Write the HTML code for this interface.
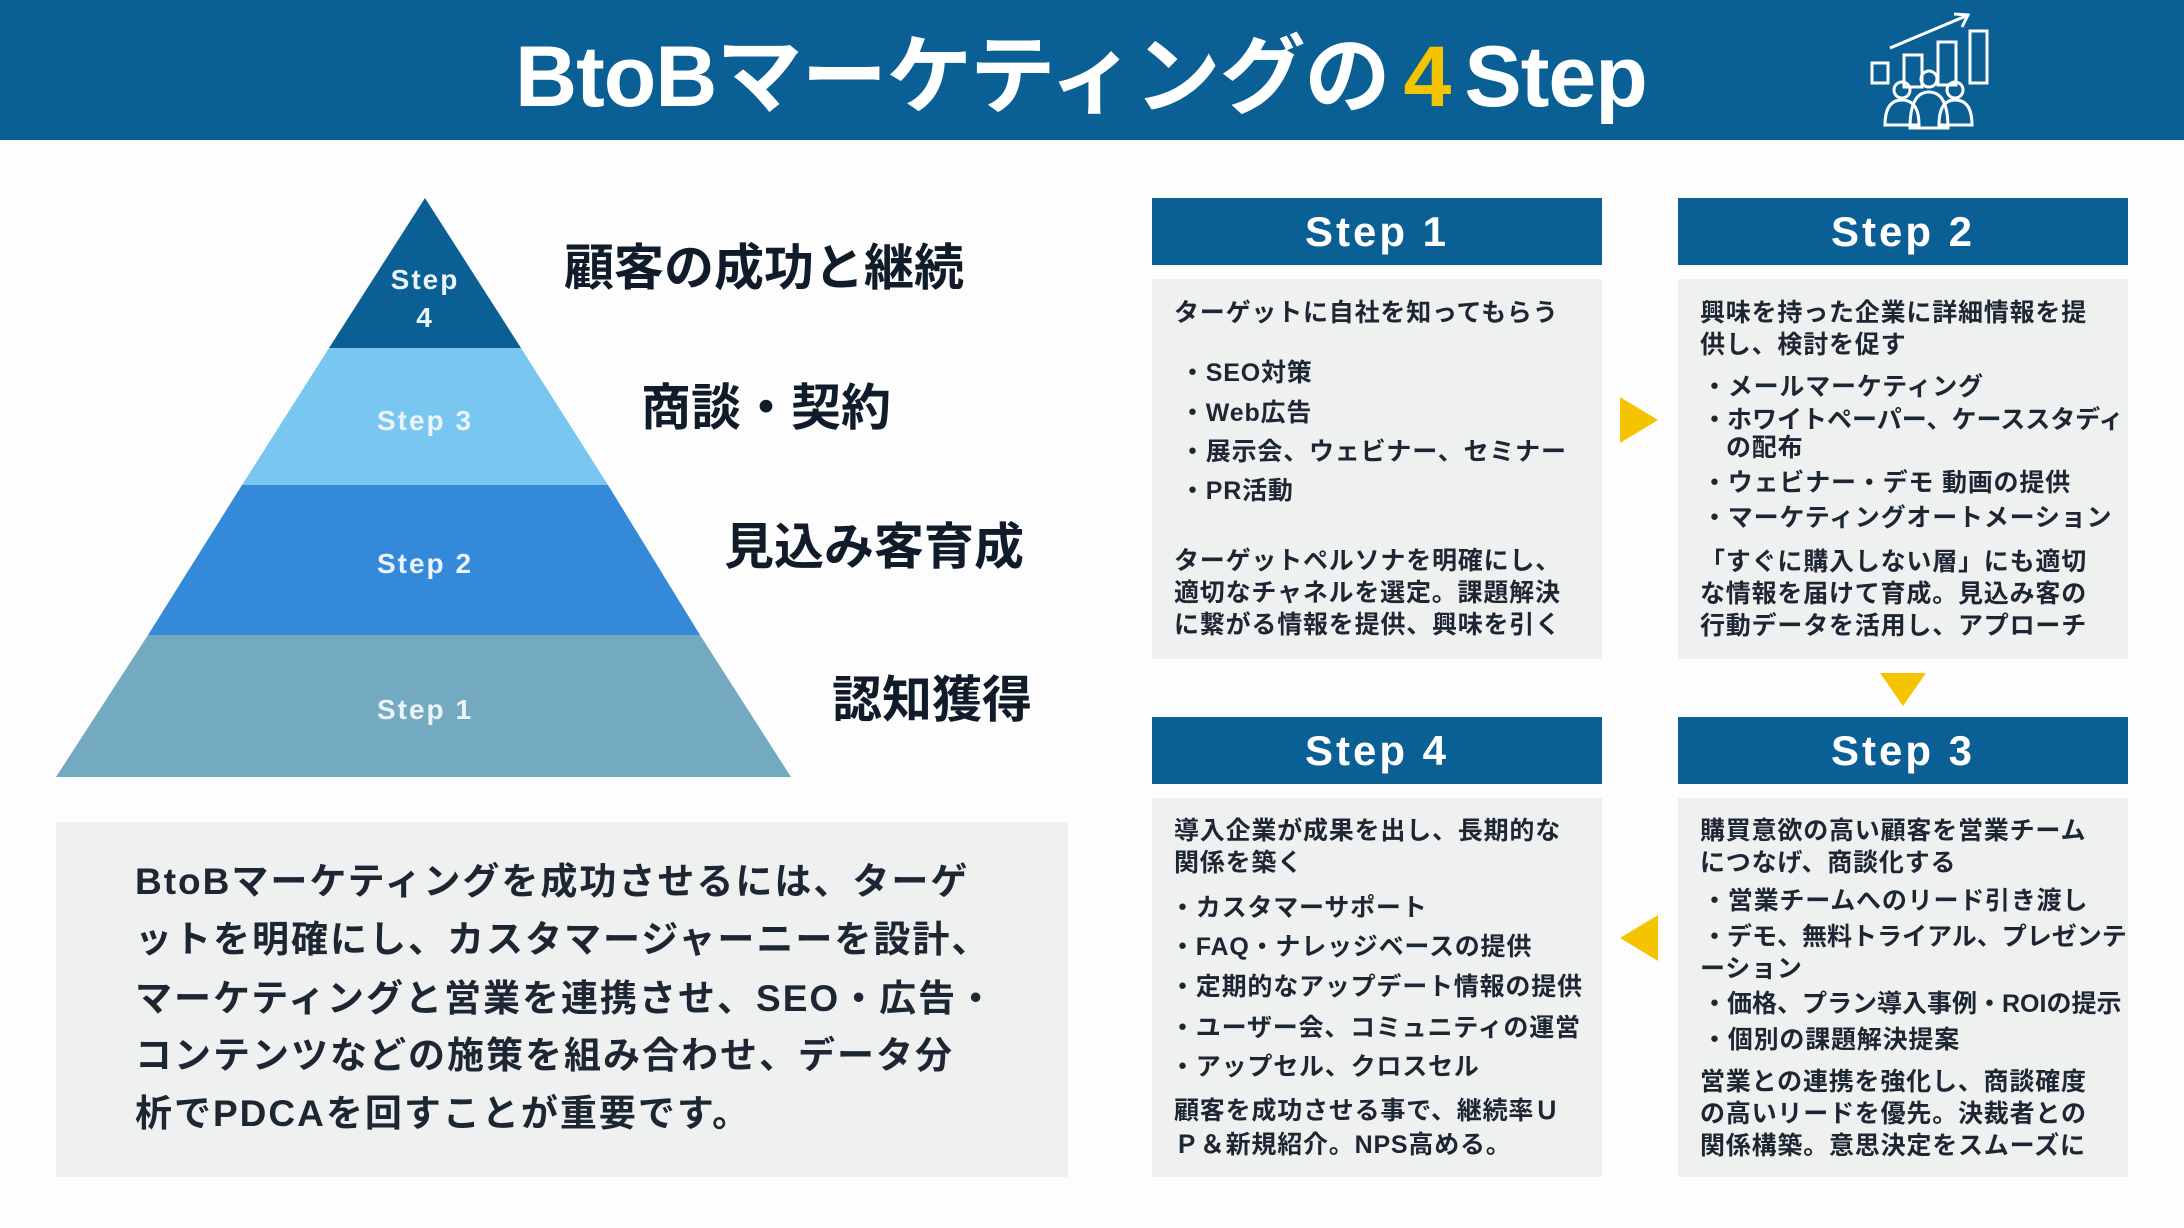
<!DOCTYPE html>
<html><head><meta charset="utf-8"><style>
*{margin:0;padding:0;box-sizing:border-box}
body{width:2184px;height:1228px;background:#fdfdfd;position:relative;overflow:hidden;font-family:"Liberation Sans","Noto Sans CJK JP",sans-serif;font-weight:bold;color:#1b2530}
.a{position:absolute;white-space:nowrap}
.hd{position:absolute;background:#0a5f94;color:#fff;font-size:42px;letter-spacing:3px;text-align:center;line-height:67px}
.bd{position:absolute;background:#eff1f0}
.t{position:absolute;white-space:nowrap;font-size:25px;line-height:30px;color:#1d2733;letter-spacing:0.8px}
.lb{position:absolute;white-space:nowrap;font-size:50px;color:#111c2a;line-height:60px}
.pt{position:absolute;color:#eaf4fa;font-size:28px;letter-spacing:2px;text-align:center;width:200px;left:325px;line-height:38px}
.bt{position:absolute;white-space:nowrap;font-size:37px;color:#1d2733;left:135px;letter-spacing:2px;line-height:46px}
</style></head><body>
<div class="a" style="left:0;top:0;width:2184px;height:140px;background:#0a5f94"></div>
<div class="a" style="left:515px;top:22px;font-size:86px;color:#fff;line-height:110px;letter-spacing:-1px">BtoBマーケティングの<span style="color:#f5c400;margin:0 14px">4</span>Step</div>
<svg class="a" style="left:1850px;top:0" width="180" height="140" viewBox="0 0 180 140" fill="none" stroke="#fff" stroke-width="3">
<rect x="22" y="63" width="16" height="20"/><rect x="54" y="55" width="18" height="32"/><rect x="88" y="42" width="18" height="43"/><rect x="120" y="31" width="17" height="52"/>
<line x1="40" y1="48" x2="116" y2="16"/><polyline points="104,14 118,15 112,27"/>
<circle cx="52" cy="90" r="8"/><circle cx="79" cy="79" r="8"/><circle cx="105" cy="90" r="8"/>
<path d="M35 125 Q35 100 52 100 Q69 100 69 125 Z"/><path d="M89 125 Q89 100 105 100 Q122 100 122 125 Z"/><path d="M60 128 Q60 92 79 92 Q98 92 98 128 Z"/>
</svg>
<svg class="a" style="left:0;top:0" width="820" height="800">
<polygon points="425,198 329,348 521,348" fill="#0a5f94"/>
<polygon points="329,348 521,348 608,485 242,485" fill="#79c6f0"/>
<polygon points="242,485 608,485 700,635 148,635" fill="#3589d9"/>
<polygon points="148,635 700,635 791,777 56,777" fill="#73aac2"/>
</svg>
<div class="pt" style="top:261px">Step<br>4</div>
<div class="pt" style="top:402px">Step 3</div>
<div class="pt" style="top:545px">Step 2</div>
<div class="pt" style="top:691px">Step 1</div>
<div class="lb" style="left:564px;top:238px">顧客の成功と継続</div>
<div class="lb" style="left:641px;top:378px">商談・契約</div>
<div class="lb" style="left:724px;top:517px">見込み客育成</div>
<div class="lb" style="left:832px;top:670px">認知獲得</div>
<div class="a" style="left:56px;top:822px;width:1012px;height:355px;background:#eff1f0"></div>
<div class="bt" style="top:859px">BtoBマーケティングを成功させるには、ターゲ</div>
<div class="bt" style="top:917px">ットを明確にし、カスタマージャーニーを設計、</div>
<div class="bt" style="top:976px">マーケティングと営業を連携させ、SEO・広告・</div>
<div class="bt" style="top:1033px">コンテンツなどの施策を組み合わせ、データ分</div>
<div class="bt" style="top:1091px">析でPDCAを回すことが重要です。</div>

<div class="hd" style="left:1152px;top:198px;width:450px">Step 1</div>
<div class="hd" style="left:1678px;top:198px;width:450px">Step 2</div>
<div class="hd" style="left:1152px;top:717px;width:450px">Step 4</div>
<div class="hd" style="left:1678px;top:717px;width:450px">Step 3</div>
<div class="bd" style="left:1152px;top:279px;width:450px;height:380px"></div>
<div class="bd" style="left:1678px;top:279px;width:450px;height:380px"></div>
<div class="bd" style="left:1152px;top:798px;width:450px;height:379px"></div>
<div class="bd" style="left:1678px;top:798px;width:450px;height:379px"></div>

<div class="t" style="left:1174px;top:298px">ターゲットに自社を知ってもらう</div>
<div class="t" style="left:1180px;top:358px">・SEO対策</div>
<div class="t" style="left:1180px;top:398px">・Web広告</div>
<div class="t" style="left:1180px;top:437px">・展示会、ウェビナー、セミナー</div>
<div class="t" style="left:1180px;top:476px">・PR活動</div>
<div class="t" style="left:1174px;top:546px">ターゲットペルソナを明確にし、</div>
<div class="t" style="left:1174px;top:578px">適切なチャネルを選定。課題解決</div>
<div class="t" style="left:1174px;top:610px">に繋がる情報を提供、興味を引く</div>

<div class="t" style="left:1700px;top:298px">興味を持った企業に詳細情報を提</div>
<div class="t" style="left:1700px;top:330px">供し、検討を促す</div>
<div class="t" style="left:1702px;top:372px">・メールマーケティング</div>
<div class="t" style="left:1702px;top:405px;letter-spacing:0">・ホワイトペーパー、ケーススタディ</div>
<div class="t" style="left:1726px;top:433px">の配布</div>
<div class="t" style="left:1702px;top:468px">・ウェビナー・デモ 動画の提供</div>
<div class="t" style="left:1702px;top:503px">・マーケティングオートメーション</div>
<div class="t" style="left:1700px;top:547px">「すぐに購入しない層」にも適切</div>
<div class="t" style="left:1700px;top:579px">な情報を届けて育成。見込み客の</div>
<div class="t" style="left:1700px;top:611px">行動データを活用し、アプローチ</div>

<div class="t" style="left:1174px;top:816px">導入企業が成果を出し、長期的な</div>
<div class="t" style="left:1174px;top:848px">関係を築く</div>
<div class="t" style="left:1170px;top:893px">・カスタマーサポート</div>
<div class="t" style="left:1170px;top:932px">・FAQ・ナレッジベースの提供</div>
<div class="t" style="left:1170px;top:972px">・定期的なアップデート情報の提供</div>
<div class="t" style="left:1170px;top:1013px">・ユーザー会、コミュニティの運営</div>
<div class="t" style="left:1170px;top:1052px">・アップセル、クロスセル</div>
<div class="t" style="left:1174px;top:1096px">顧客を成功させる事で、継続率Ｕ</div>
<div class="t" style="left:1174px;top:1130px">Ｐ＆新規紹介。NPS高める。</div>

<div class="t" style="left:1700px;top:816px">購買意欲の高い顧客を営業チーム</div>
<div class="t" style="left:1700px;top:848px">につなげ、商談化する</div>
<div class="t" style="left:1702px;top:886px">・営業チームへのリード引き渡し</div>
<div class="t" style="left:1702px;top:922px;letter-spacing:0">・デモ、無料トライアル、プレゼンテ</div>
<div class="t" style="left:1700px;top:954px">ーション</div>
<div class="t" style="left:1702px;top:989px;letter-spacing:0">・価格、プラン導入事例・ROIの提示</div>
<div class="t" style="left:1702px;top:1025px">・個別の課題解決提案</div>
<div class="t" style="left:1700px;top:1067px">営業との連携を強化し、商談確度</div>
<div class="t" style="left:1700px;top:1099px">の高いリードを優先。決裁者との</div>
<div class="t" style="left:1700px;top:1131px">関係構築。意思決定をスムーズに</div>

<svg class="a" style="left:0;top:0" width="2184" height="1228">
<polygon points="1620,397 1658,420 1620,443" fill="#f5c400"/>
<polygon points="1880,673 1926,673 1903,706" fill="#f5c400"/>
<polygon points="1658,915 1620,938 1658,961" fill="#f5c400"/>
</svg>
</body></html>
